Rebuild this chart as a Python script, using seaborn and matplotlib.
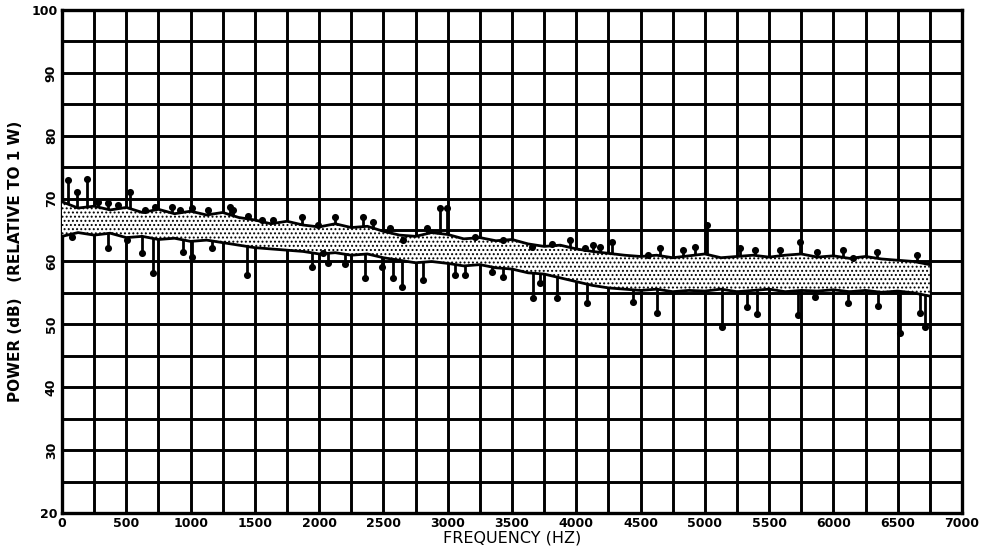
import numpy as np
import pandas as pd
import matplotlib
matplotlib.use("Agg")
import matplotlib.pyplot as plt
import seaborn as sns

# ---------------- data ----------------
band_freq = [0, 125, 250, 375, 500, 625, 750, 875, 1000, 1125, 1250, 1375, 1500, 1625,
             1750, 1875, 2000, 2125, 2250, 2375, 2500, 2625, 2750, 2875, 3000, 3125,
             3250, 3375, 3500, 3625, 3750, 3875, 4000, 4125, 4250, 4375, 4500, 4625,
             4750, 4875, 5000, 5125, 5250, 5375, 5500, 5625, 5750, 5875, 6000, 6125,
             6250, 6375, 6500, 6625, 6750]
band_upper = [69.5, 68.5, 68.8, 68.2, 68.6, 67.8, 68.3, 67.6, 68.0, 67.4, 67.8, 67.0,
              66.6, 66.0, 66.4, 65.8, 65.5, 66.0, 65.4, 65.6, 64.8, 64.2, 64.0, 64.6,
              64.3, 63.6, 63.8, 63.3, 63.5, 62.8, 62.4, 62.6, 62.0, 61.6, 61.3, 61.0,
              60.8, 61.0, 60.6, 60.9, 61.2, 60.6, 60.8, 61.0, 60.7, 61.0, 61.2, 60.7,
              60.9, 60.5, 60.8, 60.4, 60.2, 60.0, 59.5]
band_lower = [64.0, 64.6, 64.2, 64.5, 63.8, 64.0, 63.5, 63.7, 63.2, 63.4, 63.0, 62.6,
              62.2, 62.0, 61.8, 61.6, 61.2, 61.4, 61.0, 61.2, 60.6, 60.2, 59.8, 60.0,
              59.7, 59.3, 59.5, 59.0, 58.8, 58.2, 58.0, 57.4, 56.8, 56.2, 55.8, 55.6,
              55.4, 55.6, 55.2, 55.4, 55.3, 55.6, 55.2, 55.4, 55.6, 55.2, 55.4, 55.3,
              55.5, 55.2, 55.4, 55.1, 55.3, 55.0, 54.5]

up_freq = [47, 117, 194, 280, 358, 436, 529, 645, 723, 855, 918, 1011, 1136, 1307,
           1330, 1447, 1555, 1641, 1867, 1991, 2123, 2341, 2419, 2551, 2652,
           2839, 2940, 2995, 3212, 3430, 3656, 3811, 3951,
           4068, 4130, 4184, 4278, 4558, 4651, 4830, 4923, 5017, 5274, 5390,
           5585, 5740, 5872, 6074, 6152, 6339, 6650]
up_val = [73.0, 71.1, 73.1, 69.5, 69.3, 69.0, 71.1, 68.2, 68.7, 68.7, 68.2, 68.5, 68.2, 68.7,
          68.2, 67.2, 66.6, 66.6, 67.1, 65.8, 67.1, 67.1, 66.3, 65.3, 63.4,
          65.3, 68.5, 68.5, 63.9, 63.4, 62.3, 62.8, 63.4,
          62.1, 62.6, 62.3, 63.1, 61.0, 62.1, 61.8, 62.3, 65.8, 62.1, 61.8,
          61.8, 63.1, 61.5, 61.8, 60.5, 61.5, 61.0]

dn_freq = [78, 358, 506, 622, 708, 941, 1011, 1167,
           1439, 1945, 2030, 2069, 2201, 2357, 2489, 2575, 2645,
           2808, 3057, 3134, 3344, 3430, 3663, 3718, 3850,
           4083, 4441, 4628, 5134, 5328, 5406,
           5725, 5857, 6113, 6347, 6518, 6673, 6712]
dn_val = [63.9, 62.1, 63.4, 61.3, 58.2, 61.5, 60.7, 62.1,
          57.9, 59.1, 61.3, 59.8, 59.6, 57.4, 59.1, 57.4, 56.0,
          57.0, 57.9, 57.9, 58.3, 57.6, 54.2, 56.6, 54.2,
          53.4, 53.6, 51.8, 49.6, 52.8, 51.7,
          51.5, 54.4, 53.4, 52.9, 48.6, 51.8, 49.6]

x_ticks = [0, 500, 1000, 1500, 2000, 2500, 3000, 3500, 4000, 4500, 5000, 5500, 6000, 6500, 7000]
y_ticks = [20, 30, 40, 50, 60, 70, 80, 90, 100]

# ---------------- plotting ----------------
sns.set_style("white")
plt.rcParams['font.family'] = ['DejaVu Sans']
plt.rcParams['hatch.color'] = 'black'
plt.rcParams['hatch.linewidth'] = 0.9
plt.rcParams['text.color'] = 'black'
plt.rcParams['axes.labelcolor'] = 'black'
plt.rcParams['xtick.color'] = 'black'
plt.rcParams['ytick.color'] = 'black'

fig = plt.figure(figsize=(9.87, 5.58), dpi=100)
ax = fig.add_axes([62 / 987, 1 - 513 / 558, 900 / 987, 503 / 558])

band = pd.DataFrame({"f": band_freq, "hi": band_upper, "lo": band_lower})
ups = pd.DataFrame({"f": up_freq, "v": up_val})
dns = pd.DataFrame({"f": dn_freq, "v": dn_val})

# grid
for gx in np.arange(0, 7001, 250):
    ax.axvline(gx, color="black", lw=2.1, zorder=1)
for gy in np.arange(20, 101, 5):
    ax.axhline(gy, color="black", lw=2.1, zorder=1)

# spikes: stems from band middle to tip, band drawn over base
mid = (band["hi"] + band["lo"]) / 2
up_base = np.interp(ups["f"], band["f"], mid)
dn_base = np.interp(dns["f"], band["f"], mid)
ax.vlines(ups["f"], up_base, ups["v"], color="black", lw=2.0, zorder=2)
ax.vlines(dns["f"], dn_base, dns["v"], color="black", lw=2.0, zorder=2)
sns.scatterplot(data=ups, x="f", y="v", ax=ax, color="black", s=26, edgecolor="black",
                linewidth=0, zorder=5, legend=False)
sns.scatterplot(data=dns, x="f", y="v", ax=ax, color="black", s=26, edgecolor="black",
                linewidth=0, zorder=5, legend=False)

# speckled band
ax.fill_between(band["f"], band["lo"], band["hi"], facecolor="white", edgecolor="black",
                hatch="....", linewidth=0, zorder=3)
sns.lineplot(data=band, x="f", y="hi", ax=ax, color="black", lw=2.0, zorder=4)
sns.lineplot(data=band, x="f", y="lo", ax=ax, color="black", lw=2.0, zorder=4)

ax.set_xlim(0, 7000)
ax.set_ylim(20, 100)
ax.set_xticks(x_ticks)
ax.set_yticks(y_ticks)
ax.set_xticklabels([str(t) for t in x_ticks], fontsize=9, fontweight="bold")
ax.set_yticklabels([str(t) for t in y_ticks], fontsize=9, fontweight="bold")
for lab, t in zip(ax.get_yticklabels(), y_ticks):
    if t not in (20, 100):
        lab.set_rotation(90)
        lab.set_va("center")
ax.tick_params(axis="both", length=0, pad=3)
for s in ax.spines.values():
    s.set_color("black")
    s.set_linewidth(2.4)

ax.set_xlabel("FREQUENCY (HZ)", fontsize=11.5, labelpad=0)
ax.set_ylabel("POWER (dB)   (RELATIVE TO 1 W)", fontsize=11, fontweight="bold", labelpad=6)

fig.savefig("out.png", dpi=100, facecolor="white")
